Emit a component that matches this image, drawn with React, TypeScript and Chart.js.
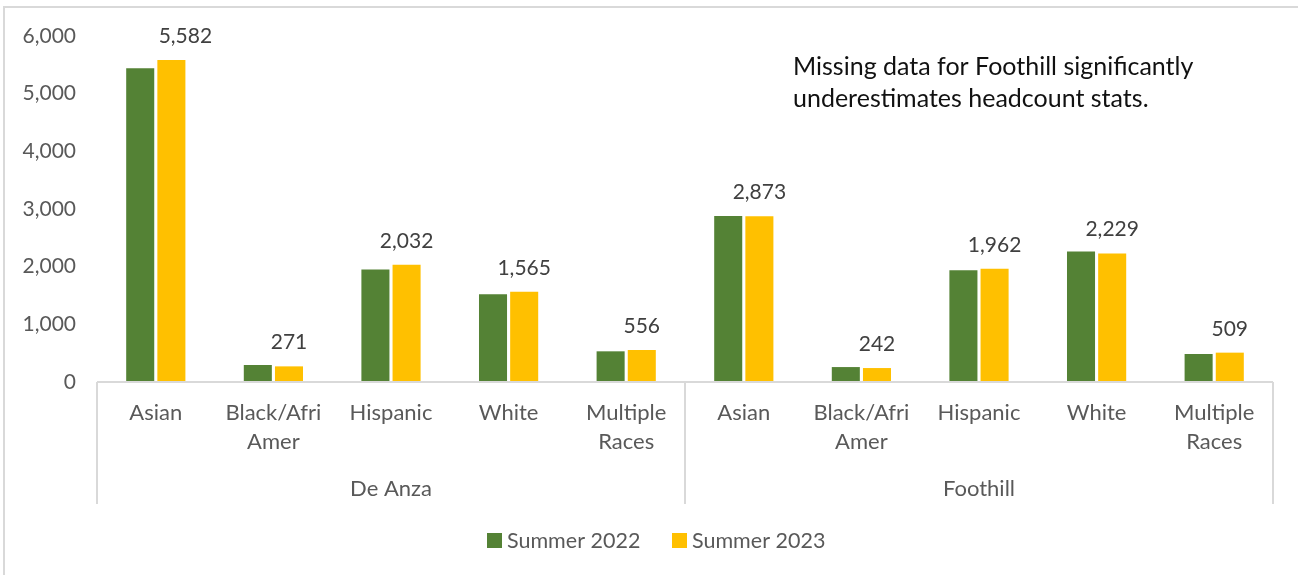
import React, { useEffect, useRef } from "react";
import { Chart, registerables } from "chart.js";

Chart.register(...registerables);

const groups = ["De Anza", "Foothill"];
const races = [["Asian"], ["Black/Afri", "Amer"], ["Hispanic"], ["White"], ["Multiple", "Races"]];
const categories = ["DA Asian", "DA Black/Afri Amer", "DA Hispanic", "DA White", "DA Multiple Races",
  "FH Asian", "FH Black/Afri Amer", "FH Hispanic", "FH White", "FH Multiple Races"];
const summer2022 = [5440, 295, 1950, 1520, 532, 2880, 259, 1940, 2264, 486];
const summer2023 = [5582, 271, 2032, 1565, 556, 2873, 242, 1962, 2229, 509];
const yTicks = [0, 1000, 2000, 3000, 4000, 5000, 6000];
const noteLines = ["Missing data for Foothill significantly", "underestimates headcount stats."];

const GREEN = "#548235";
const YELLOW = "#FFC000";
const AXIS_TEXT = "#595959";
const LABEL_TEXT = "#404040";
const LINE = "#d9d9d9";
const FONT = "Lato, 'Open Sans', sans-serif";

const fmt = (v: number) => v.toLocaleString("en-US");

const overlay = {
  id: "overlay",
  afterDraw(chart: any) {
    const ctx = chart.ctx;
    const x = chart.scales.x;
    const axisY = x.top;
    ctx.save();

    // outer frame
    ctx.strokeStyle = LINE;
    ctx.lineWidth = 2;
    ctx.strokeRect(4, 7, 1400, 700);

    // axis line and group separators
    ctx.lineWidth = 2;
    ctx.beginPath();
    ctx.moveTo(x.left, axisY);
    ctx.lineTo(x.right, axisY);
    const step = (x.right - x.left) / categories.length;
    const per = races.length;
    const seps = [x.left];
    for (let g = 0; g < groups.length; g++) {
      seps.push(x.getPixelForValue((g + 1) * per - 1) + step / 2);
    }
    seps.forEach((sx) => {
      ctx.moveTo(sx, axisY);
      ctx.lineTo(sx, axisY + 122);
    });
    ctx.stroke();

    // category labels
    ctx.fillStyle = AXIS_TEXT;
    ctx.font = `22px ${FONT}`;
    ctx.textAlign = "center";
    ctx.textBaseline = "middle";
    for (let i = 0; i < categories.length; i++) {
      const px = x.getPixelForValue(i);
      const lines = races[i % per];
      lines.forEach((l, k) => ctx.fillText(l, px, axisY + 31 + k * 29));
    }
    // group labels
    groups.forEach((g, gi) => {
      const a = x.getPixelForValue(gi * per);
      const b = x.getPixelForValue(gi * per + per - 1);
      ctx.fillText(g, (a + b) / 2, axisY + 107);
    });

    // data labels for Summer 2023
    const meta = chart.getDatasetMeta(1);
    ctx.font = `21px ${FONT}`;
    ctx.fillStyle = LABEL_TEXT;
    ctx.textBaseline = "alphabetic";
    meta.data.forEach((bar: any, i: number) => {
      const dx = i === 0 ? 14 : 0;
      ctx.fillText(fmt(summer2023[i]), bar.x + dx, bar.y - 17);
    });

    // note
    ctx.fillStyle = "#111111";
    ctx.font = `25px ${FONT}`;
    ctx.textAlign = "left";
    noteLines.forEach((l, k) => ctx.fillText(l, 793, 75 + k * 32));

    // legend
    ctx.font = `21.5px ${FONT}`;
    ctx.textBaseline = "middle";
    const legendX = [487, 672];
    chart.data.datasets.forEach((ds: any, i: number) => {
      ctx.fillStyle = ds.backgroundColor;
      ctx.fillRect(legendX[i], 533, 15, 15);
      ctx.fillStyle = AXIS_TEXT;
      ctx.fillText(ds.label, legendX[i] + 20, 541);
    });

    ctx.restore();
  },
};

export default function App() {
  const ref = useRef<HTMLCanvasElement>(null);
  useEffect(() => {
    if (!ref.current) return;
    const chart = new Chart(ref.current, {
      type: "bar",
      data: {
        labels: categories,
        datasets: [
          { label: "Summer 2022", data: summer2022, backgroundColor: GREEN, barPercentage: 0.9, categoryPercentage: 0.53 },
          { label: "Summer 2023", data: summer2023, backgroundColor: YELLOW, barPercentage: 0.9, categoryPercentage: 0.53 },
        ],
      },
      options: {
        animation: false,
        responsive: false,
        devicePixelRatio: 1,
        layout: { padding: { top: 36, right: 25, left: 0, bottom: 0 } },
        plugins: { legend: { display: false }, tooltip: { enabled: false } },
        scales: {
          x: {
            grid: { display: false },
            border: { display: false },
            ticks: { display: false },
            afterFit: (s: any) => { s.height = 193; },
          },
          y: {
            min: 0,
            max: 6000,
            afterBuildTicks: (s: any) => { s.ticks = yTicks.map((v) => ({ value: v })); },
            grid: { display: false },
            border: { display: false },
            ticks: {
              padding: 13,
              color: AXIS_TEXT,
              font: { family: FONT, size: 21 },
              callback: (v: any) => fmt(Number(v)),
            },
            afterFit: (s: any) => { s.width = 97; },
          },
        },
      },
      plugins: [overlay],
    });
    return () => chart.destroy();
  }, []);
  return (
    <div style={{ position: "fixed", left: 0, top: 0, width: 1298, height: 575, background: "#fff" }}>
      <canvas ref={ref} width={1298} height={575} style={{ width: 1298, height: 575 }} />
    </div>
  );
}
